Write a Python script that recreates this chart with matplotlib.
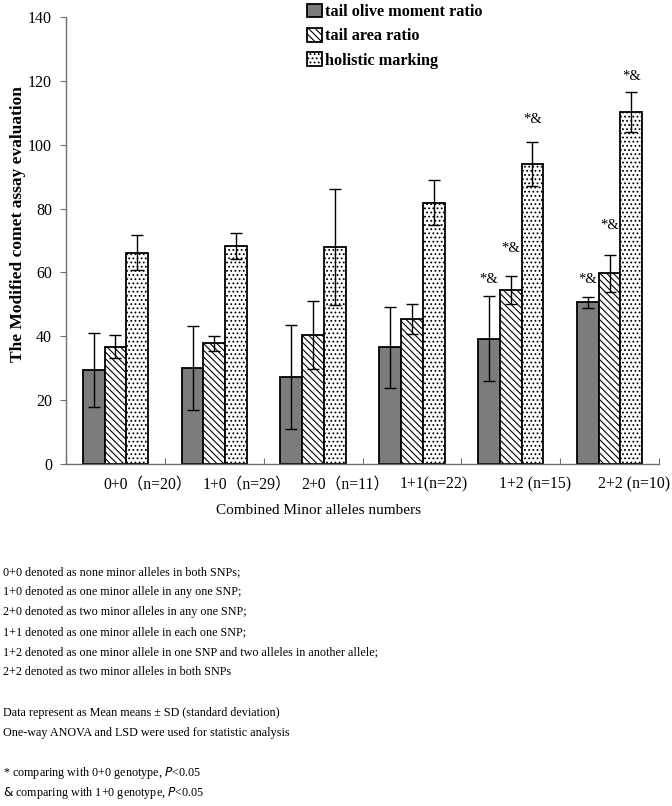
import matplotlib
matplotlib.use("Agg")
import matplotlib.pyplot as plt
import numpy as np

plt.rcParams['font.family'] = ['Liberation Serif', 'Noto Sans CJK SC', 'DejaVu Sans']
plt.rcParams['hatch.linewidth'] = 0.8

groups = ["0+0\uff08n=20\uff09", "1+0\uff08n=29\uff09", "2+0\uff08n=11\uff09",
          "1+1(n=22)", "1+2 (n=15)", "2+2 (n=10)"]
series = ["tail olive moment ratio", "tail area ratio", "holistic marking"]
olive = [29.4, 30.0, 27.3, 36.5, 39.3, 50.6]
olive_sd = [11.5, 13.2, 16.2, 12.8, 13.4, 1.8]
area = [36.7, 37.8, 40.4, 45.3, 54.5, 59.7]
area_sd = [3.6, 2.3, 10.6, 4.7, 4.3, 5.7]
holistic = [66.2, 68.3, 67.9, 81.9, 93.9, 110.3]
holistic_sd = [5.5, 4.2, 18.2, 6.9, 6.9, 6.3]
# significance marks: (group, series, y)
marks = [(4, 0, 57.9), (4, 1, 67.6), (4, 2, 108.0),
         (5, 0, 57.9), (5, 1, 74.8), (5, 2, 121.5)]
yticks = [0, 20, 40, 60, 80, 100, 120, 140]

notes1 = ["0+0 denoted as none minor alleles in both SNPs;",
          "1+0 denoted as one minor allele in any one SNP;",
          "2+0 denoted as two minor alleles in any one SNP;",
          "1+1 denoted as one minor allele in each one SNP;",
          "1+2 denoted as one minor allele in one SNP and two alleles in another allele;",
          "2+2 denoted as two minor alleles in both SNPs"]
notes2 = ["Data represent as Mean means \u00b1 SD (standard deviation)",
          "One-way ANOVA and LSD were used for statistic analysis"]

W, H = 672, 806
fig = plt.figure(figsize=(W / 100, H / 100), dpi=100)
ax = fig.add_axes([66 / W, (H - 464) / H, (659 - 66) / W, (464 - 17) / H])

x = np.arange(len(groups))
bw = 0.22
offs = [-0.22, 0.0, 0.22]
vals = [olive, area, holistic]
sds = [olive_sd, area_sd, holistic_sd]
faces = ['#7c7c7c', 'white', 'white']
hatches = [None, '\\\\\\\\\\', '....']
handles = []
for k in range(3):
    b = ax.bar(x + offs[k], vals[k], bw, color=faces[k], edgecolor='black',
               hatch=hatches[k], linewidth=1.3, label=series[k], zorder=2)
    handles.append(b)
    ax.errorbar(x + offs[k], vals[k], yerr=sds[k], fmt='none', ecolor='black',
                elinewidth=1.0, capsize=4, capthick=1.0, zorder=3)

for g, s, yv in marks:
    ax.text(g + offs[s], yv, "*&", ha='center', va='center', fontsize=10.5)

ax.set_xlim(-0.5, 5.5)
ax.set_ylim(0, 140)
ax.set_yticks(yticks)
ax.set_yticklabels([str(v) for v in yticks], fontsize=11.5)
ax.set_xticks(np.arange(-0.5, 5.51, 1.0))
ax.set_xticklabels([])
ax.tick_params(axis='x', direction='in', length=4, color='#707070')
ax.tick_params(axis='y', direction='out', length=4, color='#707070', pad=6)
for sp in ['top', 'right']:
    ax.spines[sp].set_visible(False)
for sp in ['left', 'bottom']:
    ax.spines[sp].set_color('#707070')
    ax.spines[sp].set_linewidth(1.0)

for i, lab in enumerate(groups):
    ax.text(i - 0.12, -6.5, lab, ha='left', va='center', fontsize=11.3)

fig.text(318 / W, 1 - 510 / H, "Combined Minor alleles numbers", ha='center',
         va='center', fontsize=11)
fig.text(18 / W, 1 - 224 / H, "The Modified comet assay evaluation", ha='center',
         va='center', rotation=90, fontsize=12.5, fontweight='bold')

ax.legend(handles=handles, loc='upper left', bbox_to_anchor=(307 / W, 1 - 4 / H),
          bbox_transform=fig.transFigure, frameon=False,
          handlelength=0.9, handleheight=0.9, handletextpad=0.2, labelspacing=0.48,
          borderpad=0.0, borderaxespad=0.0,
          prop={'weight': 'bold', 'size': 11.7})

ys = [572, 592, 612, 632, 652, 672]
fs = 8.7
for yy, t in zip(ys, notes1):
    fig.text(3 / W, 1 - yy / H, t, ha='left', va='center', fontsize=fs)
for yy, t in zip([713, 733], notes2):
    fig.text(3 / W, 1 - yy / H, t, ha='left', va='center', fontsize=fs)
fig.text(3 / W, 1 - 773 / H, "* comparing with 0+0 genotype, $\\it{P}$<0.05",
         ha='left', va='center', fontsize=fs)
fig.text(3 / W, 1 - 793 / H, "$\\it{&}$ comparing with 1+0 genotype, $\\it{P}$<0.05",
         ha='left', va='center', fontsize=fs)

fig.savefig("out.png", dpi=100)
